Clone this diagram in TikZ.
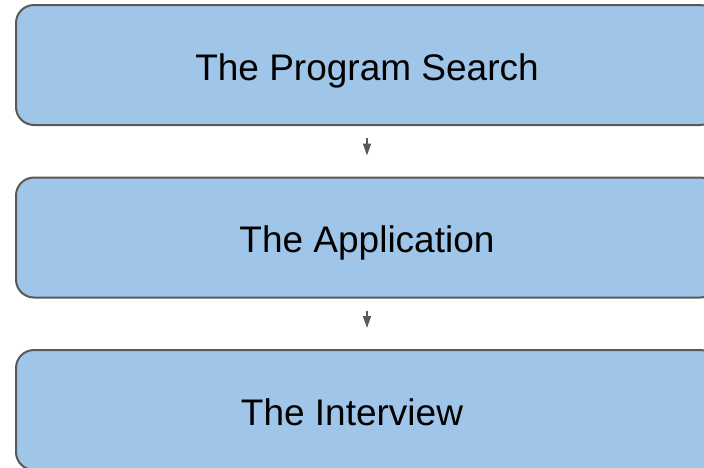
\documentclass[tikz,border=0pt]{standalone}
\usepackage{fontspec}
\setmainfont{Liberation Sans}
\usetikzlibrary{arrows.meta}
\definecolor{boxfill}{HTML}{9FC5E8}
\definecolor{boxline}{HTML}{595959}
\begin{document}
\begin{tikzpicture}[x=1pt,y=-1pt,
  stagebox/.style={draw=boxline, line width=2pt, fill=boxfill, rounded corners=18pt,
    minimum width=702pt, minimum height=120pt, inner sep=0pt,
    text height=30.5pt, text depth=0pt,
    font=\fontsize{37}{44}\selectfont, text=black},
  flowarrow/.style={draw=boxline, line width=1.5pt, -{Triangle[length=12pt,width=8pt]}}]
\useasboundingbox (0,0) rectangle (704,467);
\clip (0,0) rectangle (704,467);
\node[stagebox] (s1) at (367,65) {The Program Search};
\node[stagebox] (s2) at (367,237.5) {The Application};
\node[stagebox] (s3) at (367,410) {The Interview\hspace*{30pt}};
\draw[flowarrow] ([yshift=-12pt]s1.south) -- ([yshift=21pt]s2.north);
\draw[flowarrow] ([yshift=-12pt]s2.south) -- ([yshift=21pt]s3.north);
\end{tikzpicture}
\end{document}
